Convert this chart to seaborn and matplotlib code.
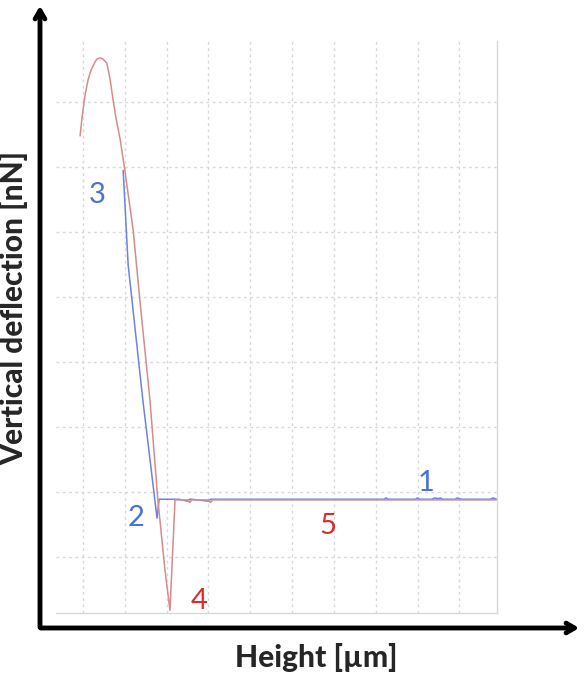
import numpy as np
import pandas as pd
import seaborn as sns
import matplotlib.pyplot as plt

# approach curve (blue) - height in grid units, deflection in grid units
approach_x = [0.96, 1.08, 1.43, 1.77, 1.82, 2.3, 2.5, 2.55, 2.6, 3.0, 3.05, 3.1, 7.2, 7.25, 7.3,
              7.95, 8.0, 8.05, 8.35, 8.4, 8.5, 8.55, 8.6, 8.9, 8.95, 9.0, 9.05, 9.75, 9.8, 9.9]
approach_y = [5.95, 4.49, 2.42, 0.60, 0.89, 0.89, 0.86, 0.89, 0.89, 0.86, 0.89, 0.89, 0.89, 0.91, 0.89,
              0.89, 0.91, 0.89, 0.89, 0.91, 0.90, 0.91, 0.89, 0.89, 0.91, 0.90, 0.89, 0.89, 0.91, 0.89]

# retract curve (red)
retract_x = [-0.07, -0.03, 0.0, 0.05, 0.12, 0.19, 0.29, 0.33, 0.41, 0.48, 0.57, 0.65, 0.72, 0.79,
             0.89, 1.0, 1.2, 1.36, 1.6, 1.79, 1.96, 2.08,
             2.2, 2.5, 2.55, 2.6, 3.0, 3.05, 3.1, 9.9]
retract_y = [6.48, 6.72, 6.88, 7.11, 7.34, 7.49, 7.62, 7.66, 7.68, 7.66, 7.6, 7.34, 7.03, 6.75,
             6.42, 5.95, 5.03, 3.95, 2.42, 0.88, -0.2, -0.82,
             0.88, 0.88, 0.84, 0.88, 0.88, 0.84, 0.88, 0.88]

labels = ["1", "2", "3", "4", "5"]
label_x = [8.2, 1.27, 0.33, 2.77, 5.86]
label_y = [1.14, 0.6, 5.57, -0.68, 0.48]
label_col = ["#4a72d6", "#4a72d6", "#4a72d6", "#e02828", "#e02828"]

approach = pd.DataFrame({"h": approach_x, "d": approach_y})
retract = pd.DataFrame({"h": retract_x, "d": retract_y})

sns.set_style("white")
plt.rcParams["font.family"] = ["Lato", "DejaVu Sans"]

W, H = 584, 673
fig = plt.figure(figsize=(W / 100, H / 100), dpi=100)
ax = fig.add_axes([56 / W, (H - 613) / H, (497 - 56) / W, (613 - 41) / H])

sns.lineplot(data=approach, x="h", y="d", ax=ax, color="#6a84e0", lw=1.1, sort=False)
sns.lineplot(data=retract, x="h", y="d", ax=ax, color="#d98a8a", lw=1.1, sort=False)

for t, x, y, c in zip(labels, label_x, label_y, label_col):
    ax.text(x, y, t, color=c, fontsize=21, ha="center", va="center")

ax.set_xlim(-0.646, 9.9)
ax.set_ylim(-0.86, 7.94)
ax.set_xticks(range(0, 10))
ax.set_yticks(range(0, 8))
ax.tick_params(length=0, labelbottom=False, labelleft=False)
ax.set_xlabel("")
ax.set_ylabel("")
ax.grid(True, color="#d8d8d8", linestyle=(0, (2, 2.5)), lw=1.0)
for s in ["top", "left"]:
    ax.spines[s].set_visible(False)
for s in ["bottom", "right"]:
    ax.spines[s].set_color("#d8d8d8")
    ax.spines[s].set_linewidth(1.0)

# black axis arrows
arrow = dict(arrowstyle="->,head_length=0.6,head_width=0.35", color="black", lw=3.5)
ax.annotate("", xy=(40 / W, 1 - 3 / H), xytext=(40 / W, 1 - 630 / H),
            xycoords="figure fraction", textcoords="figure fraction", arrowprops=arrow)
ax.annotate("", xy=(582 / W, 1 - 628 / H), xytext=(38 / W, 1 - 628 / H),
            xycoords="figure fraction", textcoords="figure fraction", arrowprops=arrow)

fig.text(316 / W, 1 - 657 / H, "Height [µm]", fontsize=21.5, fontweight="black",
         ha="center", va="center")
fig.text(14 / W, 1 - 308 / H, "Vertical deflection [nN]", fontsize=21.5, fontweight="black",
         ha="center", va="center", rotation=90)

fig.savefig("out.png", dpi=100)
